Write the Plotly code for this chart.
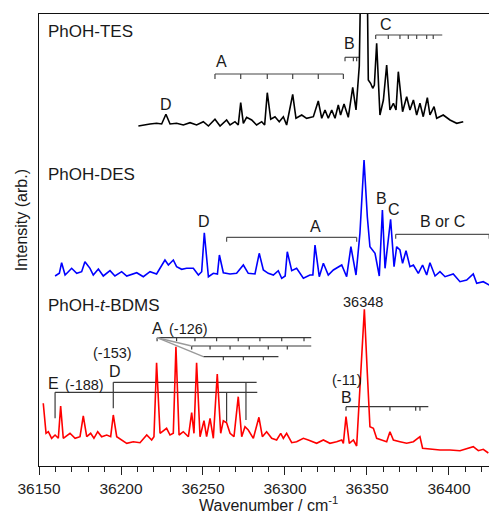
import plotly.graph_objects as go

# ---------------- data (wavenumber / cm-1, relative intensity) ----------------
tes_wn = [36210.6, 36213.6, 36217.7, 36221.7, 36224.8, 36227.4, 36229.9, 36233.9, 36238.0, 36242.1,
          36246.1, 36250.2, 36253.3, 36257.3, 36260.4, 36264.4, 36266.5, 36269.5, 36271.5, 36273.0,
          36274.6, 36276.6, 36279.7, 36282.7, 36285.8, 36287.6, 36289.2, 36291.3, 36293.9, 36296.5,
          36299.0, 36301.0, 36304.7, 36306.7, 36310.2, 36313.2, 36317.3, 36320.3, 36322.4, 36324.4,
          36326.4, 36328.5, 36330.5, 36332.5, 36333.9, 36336.0, 36338.6, 36341.3, 36343.3, 36345.3,
          36346.7, 36349.8, 36350.8, 36352.2, 36353.5, 36354.5, 36355.9, 36357.9, 36360.0, 36362.0,
          36364.0, 36366.1, 36367.7, 36369.1, 36371.7, 36374.2, 36376.2, 36378.3, 36380.3, 36382.3,
          36384.3, 36386.8, 36388.4, 36390.9, 36392.5, 36396.5, 36400.6, 36404.7, 36408.7]
tes_int = [0, 1, 2, 2.7, 2, 11.7, 2, 2.7, 1, 3.3,
           1, 4.3, 0, 6.7, 0, 6, 1, 4.3, 1, 23.3,
           2.7, 8.7, 6, 1, 4.3, 1, 33.3, 6.7, 9.3, 4.3,
           9.3, 1, 31.7, 7.7, 11, 7.7, 9.3, 25, 7.7, 16,
           7.7, 16, 7.7, 21, 11, 22, 8.7, 38.7, 16, 60,
           200, 200, 46, 42.7, 37.7, 41, 82.7, 11, 26, 61,
           16, 22.7, 16, 54.3, 14.3, 29.3, 16, 26, 11, 22.7,
           9.3, 28.3, 11, 19.3, 7.7, 11, 6, 2.7, 4.3]

des_wn = [36159.8, 36162.4, 36163.8, 36165.9, 36167.9, 36169.9, 36173.0, 36176.0, 36178.0, 36181.1,
          36183.1, 36186.2, 36189.2, 36193.3, 36196.3, 36200.4, 36203.5, 36209.6, 36213.6, 36217.7,
          36221.7, 36226.8, 36228.9, 36231.9, 36233.9, 36237.0, 36240.0, 36244.1, 36247.2, 36249.2,
          36250.8, 36253.3, 36256.3, 36258.8, 36260.0, 36262.4, 36266.5, 36270.5, 36274.6, 36277.6,
          36281.7, 36284.3, 36286.8, 36289.8, 36292.9, 36295.9, 36298.0, 36300.1, 36301.4, 36304.1,
          36307.1, 36311.2, 36315.2, 36317.0, 36318.3, 36320.9, 36323.4, 36326.4, 36329.5, 36334.6,
          36337.6, 36340.2, 36343.3, 36345.7, 36348.2, 36350.2, 36351.8, 36354.9, 36357.5, 36359.4,
          36361.0, 36363.0, 36364.4, 36366.5, 36368.1, 36370.1, 36371.7, 36373.8, 36376.2, 36378.3,
          36381.3, 36383.9, 36386.4, 36388.4, 36391.5, 36394.5, 36397.6, 36402.6, 36406.7, 36410.8,
          36414.8, 36416.9, 36420.9, 36424.6]
des_int = [0, 2.7, 13.3, 1, 4.3, 7.7, 2.7, 4.3, 14.3, 7.7,
           1, 7, 0, 5.3, 0, 4.3, 0, 3.3, -0.7, 4.3,
           2, 16, 11, 16, 9.3, 6.7, 7.7, 7.7, 1, 4.3,
           43.3, -0.7, 2.7, 2, 21, 3.3, 2, 2.7, 11, 2.7,
           2, 22.7, 6, 2.7, 1, 5.3, -2.3, 0, 24.3, 5.3,
           7.7, -2.3, 1, 1, 31, -0.7, 12.7, 1, 6, 11,
           -0.7, 29.3, 1, 42.7, 116, 59.3, 29.3, 22.7, 0, 66,
           7.7, 39.3, 56.7, 9.3, 29.3, 26, 12.7, 25.3, 9.3, 11,
           2.7, 11, 1, 13.3, 0, 4.3, -0.7, 2, -5.7, -4,
           2, -7.3, -5.7, -9]

bdms_wn = [36152.6, 36154.3, 36155.7, 36157.7, 36159.8, 36161.8, 36163.2, 36164.8, 36168.9, 36172.0,
           36175.0, 36177.0, 36179.1, 36181.5, 36183.5, 36185.8, 36188.2, 36191.3, 36193.7, 36195.3,
           36197.4, 36200.4, 36203.5, 36207.5, 36211.6, 36215.7, 36218.7, 36220.1, 36221.7, 36223.8,
           36227.8, 36229.9, 36231.9, 36233.5, 36235.4, 36238.0, 36241.1, 36243.1, 36244.5, 36246.1,
           36248.2, 36250.6, 36252.2, 36254.3, 36256.3, 36258.7, 36260.8, 36262.4, 36264.4, 36266.5,
           36268.9, 36271.5, 36273.6, 36275.6, 36277.6, 36280.7, 36284.1, 36286.2, 36288.8, 36291.9,
           36294.9, 36297.4, 36299.0, 36301.0, 36304.1, 36307.1, 36311.2, 36314.2, 36319.3, 36323.4,
           36327.4, 36331.5, 36334.6, 36335.6, 36337.2, 36339.2, 36341.7, 36343.7, 36345.7, 36348.4,
           36350.2, 36351.8, 36353.9, 36355.9, 36358.9, 36362.0, 36364.0, 36366.1, 36370.1, 36374.2,
           36378.3, 36380.3, 36382.3, 36383.9, 36388.4, 36394.5, 36400.6, 36406.7, 36414.8, 36417.9,
           36420.9, 36424.0]
bdms_int = [37.7, 7.7, 9.3, 2.7, 6, 2.7, 35, 2.7, 7.7, 2.7,
            4.3, 25, 4.3, 7.7, 2.7, 9.3, 4.3, 6, 4.3, 26,
            4.3, 1, -2.3, -0.7, -1.7, 6, 1, 4.3, 78.3, 7.7,
            12.7, 6, 7.7, 94.3, 6, 9.3, 4.3, 28.3, 7.7, 78.3,
            4.3, 20.3, 4.3, 22.7, 2.7, 67, 7.7, 20.3, 18.3, 7.7,
            4.3, 44.3, 4.3, 14.3, 11, 2.7, 23.7, 4.3, 9.3, 2.7,
            1, 7.7, 2.7, 7.7, -1.7, -0.7, 2.7, 1, -2.3, 1,
            -2.3, -0.7, 1, -2.3, 24.3, -2.3, 1, -5, 51, 131.7,
            67.7, 14.3, 12.7, 2.7, 1, -0.7, 9.3, 1, -0.7, -2.3,
            -0.7, 1.7, 4.3, -7.3, -8.3, -9, -9, -9.7, -5.7, -9.7,
            -8.3, -12]

# band progressions (tick positions, cm-1)
tes_A = [36257.3, 36273.0, 36289.2, 36304.7, 36320.3, 36335.6]
tes_B = [36336.6, 36341.7, 36343.7]
tes_C = [36355.3, 36363.0, 36370.1, 36375.2, 36380.3, 36386.4, 36390.4]
des_A = [36264.4, 36343.7]
des_BC = [36367.5, 36424.5]
bdms_A1 = [36222.0, 36233.9, 36245.1, 36258.3, 36271.5, 36284.7, 36298.0, 36311.6]
bdms_A2 = [36243.1, 36254.3, 36266.5, 36278.2, 36289.8, 36301.4]
bdms_A3 = [36262.4, 36274.6, 36286.8]
bdms_B = [36337.2, 36364.0, 36379.7, 36382.3]
bdms_D = [36195.3, 36276.2]
bdms_E = [36159.8, 36264.4]
origin_label = "36348"
x_ticks = [36150, 36200, 36250, 36300, 36350, 36400]

# vertical stacking offsets
off_tes, off_des, off_bdms = 340, 190, 25

FONT = "Liberation Sans, Arial, Helvetica, sans-serif"
fig = go.Figure()
for wn, inten, off, col in [(tes_wn, tes_int, off_tes, "#000000"),
                            (des_wn, des_int, off_des, "#0000ff"),
                            (bdms_wn, bdms_int, off_bdms, "#ff0000")]:
    fig.add_trace(go.Scatter(x=wn, y=[v + off for v in inten], mode="lines",
                             line=dict(color=col, width=1.6), hoverinfo="skip",
                             showlegend=False))

shapes = []


def seg(x0, y0, x1, y1, color="#3a3a3a", width=1.2):
    shapes.append(dict(type="line", xref="x", yref="y", x0=x0, y0=y0, x1=x1, y1=y1,
                       line=dict(color=color, width=width), layer="below"))


def comb(x0, x1, y, ticks, tlen, color="#3a3a3a", width=1.2):
    seg(x0, y, x1, y, color, width)
    if not isinstance(tlen, list):
        tlen = [tlen] * len(ticks)
    for t, L in zip(ticks, tlen):
        seg(t, y, t, y - L, color, width)


# TES combs
comb(tes_A[0], tes_A[-1], 392, tes_A, 5, "#444444")
comb(tes_B[0], 36345.7, 408.7, tes_B, 4, "#444444")
comb(tes_C[0], 36395.9, 431, tes_C, 4, "#444444")
# DES brackets
comb(des_A[0], des_A[1], 228.7, des_A, 4.5, "#555555")
comb(des_BC[0], des_BC[1], 231.7, des_BC, 4.5, "#555555")
# BDMS combs
comb(bdms_A1[0], 36316, 128.3, bdms_A1, 3.5)
comb(bdms_A2[0], 36316, 120, bdms_A2, 3.5)
comb(36250.2, 36296, 109.3, bdms_A3, 3.5)
seg(bdms_A1[0], 128.3, bdms_A2[0], 120, "#9a9a9a", 1.4)
seg(bdms_A1[0], 128.3, 36250.2, 109.3, "#9a9a9a", 1.4)
comb(bdms_D[0], 36282.7, 83.7, bdms_D, [26, 37.7])
comb(bdms_E[0], 36283.1, 73.7, bdms_E, [26, 29.4])
comb(bdms_B[0], 36387.4, 59.3, bdms_B, 4)

ann = []


def txt(s, x, y, size=16, anchor="center", xref="x", yref="y", angle=0):
    ann.append(dict(text=s, x=x, y=y, xref=xref, yref=yref, showarrow=False,
                    xanchor=anchor, yanchor="middle", textangle=angle,
                    font=dict(family=FONT, size=size, color="#1a1a1a")))


# TES labels
txt("PhOH-TES", 36154.3, 434.3, 17, "left")
txt("A", 36261.4, 404.3)
txt("B", 36339.6, 422.7)
txt("C", 36361.6, 442)
txt("D", 36227.4, 361.7)
# DES labels
txt("PhOH-DES", 36154.3, 292, 17, "left")
txt("D", 36250.5, 245)
txt("A", 36318.3, 240)
txt("B", 36359.0, 267.7)
txt("C", 36366.5, 256.7)
txt("B or C", 36395.9, 245)
# BDMS labels
txt("PhOH-<i>t</i>-BDMS", 36154.3, 161, 17, "left")
txt(origin_label, 36347.7, 164.3, 14.5)
txt("A", 36222.4, 138)
txt("(-126)", 36241.0, 137, 14.5)
txt("(-153)", 36194.9, 112.7, 14.5)
txt("D", 36196.3, 94.3)
txt("E", 36159.1, 82.7)
txt("(-188)", 36178.0, 81, 14.5)
txt("(-11)", 36337.6, 86, 14.5)
txt("B", 36337.2, 68.3)
# axis titles
txt("Intensity (arb.)", -0.0384, 0.543, 16, "center", "paper", "paper", -90)
txt("Wavenumber / cm<sup>-1</sup>", 0.511, -0.085, 16, "center", "paper", "paper")

fig.update_layout(
    width=489, height=513, autosize=False,
    margin=dict(l=39, r=0, t=14, b=47, pad=0),
    paper_bgcolor="white", plot_bgcolor="white",
    shapes=shapes, annotations=ann, showlegend=False,
    font=dict(family=FONT, color="#1a1a1a"),
    xaxis=dict(range=[36150, 36424.4], tickvals=x_ticks, tickformat="d",
               ticks="outside", ticklen=8,
               tickwidth=1.2, tickcolor="#222", showline=True, linecolor="#111",
               linewidth=1.3, mirror=True, showgrid=False, zeroline=False,
               tickfont=dict(family=FONT, size=15.5, color="#222"),
               minor=dict(tick0=36150, dtick=10, ticks="outside", ticklen=5,
                          tickwidth=1.2, tickcolor="#222", showgrid=False)),
    yaxis=dict(range=[0, 452], showline=True, linecolor="#111", linewidth=1.3,
               showticklabels=False, ticks="", showgrid=False, zeroline=False),
)

fig.write_html("out.html", config={"displayModeBar": False},
               post_script="document.body.style.margin='0';"
                           "document.documentElement.style.overflow='hidden';")
